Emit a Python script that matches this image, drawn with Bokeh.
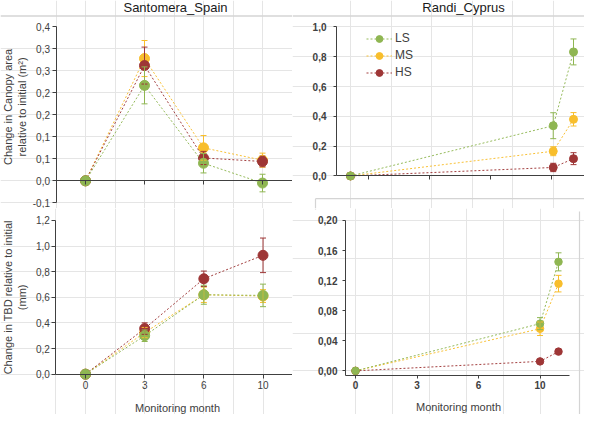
import math
from bokeh.plotting import figure
from bokeh.models import (Range1d, LinearAxis, FixedTicker, CustomJSTickFormatter,
                          ColumnDataSource, Whisker, TeeHead, Span, Label, Legend, LegendItem)
from bokeh.layouts import column, row
from bokeh.embed import file_html
from bokeh.resources import INLINE

# ---------------- data ----------------
series = ["LS", "MS", "HS"]
colors = {"LS": "#8fb652", "MS": "#f8be2c", "HS": "#9e3636"}

spain_month_labels = ["0", "3", "6", "10"]
cyprus_months = [0, 10, 11]

spain_canopy = {"LS": [0, 0.217, 0.040, -0.005],
                "MS": [0, 0.278, 0.075, 0.047],
                "HS": [0, 0.262, 0.052, 0.044]}
spain_canopy_err = {"LS": [0, 0.042, 0.022, 0.020],
                    "MS": [0, 0.041, 0.028, 0.016],
                    "HS": [0, 0.042, 0.015, 0.012]}

spain_tbd = {"LS": [0, 0.300, 0.620, 0.615],
             "MS": [0, 0.325, 0.620, 0.610],
             "HS": [0, 0.356, 0.745, 0.928]}
spain_tbd_err = {"LS": [0, 0.045, 0.074, 0.088],
                 "MS": [0, 0.040, 0.060, 0.050],
                 "HS": [0, 0.045, 0.060, 0.135]}

cyprus_canopy = {"LS": [0, 0.337, 0.832],
                 "MS": [0, 0.166, 0.380],
                 "HS": [0, 0.057, 0.116]}
cyprus_canopy_err = {"LS": [0, 0.087, 0.087],
                     "MS": [0, 0.030, 0.045],
                     "HS": [0, 0.028, 0.040]}

cyprus_tbd = {"LS": [0, 0.0628, 0.145],
              "MS": [0, 0.056, 0.116],
              "HS": [0, 0.0126, 0.0256]}
cyprus_tbd_err = {"LS": [0, 0.008, 0.012],
                  "MS": [0, 0.009, 0.011],
                  "HS": [0, 0.0, 0.0]}

spain_canopy_ticks = [-0.05, 0.0, 0.05, 0.10, 0.15, 0.20, 0.25, 0.30, 0.35]
spain_canopy_tick_labels = ["-0,1", "0,0", "0,1", "0,1", "0,2", "0,2", "0,3", "0,3", "0,4"]
spain_tbd_ticks = [0.0, 0.2, 0.4, 0.6, 0.8, 1.0, 1.2]
spain_tbd_tick_labels = ["0,0", "0,2", "0,4", "0,6", "0,8", "1,0", "1,2"]
cyprus_canopy_ticks = [0.0, 0.2, 0.4, 0.6, 0.8, 1.0]
cyprus_canopy_tick_labels = ["0,0", "0,2", "0,4", "0,6", "0,8", "1,0"]
cyprus_tbd_ticks = [0.0, 0.04, 0.08, 0.12, 0.16, 0.20]
cyprus_tbd_tick_labels = ["0,00", "0,04", "0,08", "0,12", "0,16", "0,20"]
cyprus_x_ticks = [0, 10 / 3, 20 / 3, 10]
cyprus_x_tick_labels = ["0", "3", "6", "10"]
cyprus_top_x_ticks = [0.9, 3.9, 6.9, 9.9]

# ---------------- layout helpers ----------------
FONT = "Liberation Sans"
AXIS_C = "#404040"
LABEL_C = "#404040"
GRAY = "#d4d4d4"
TOP_H, BOT_H, COL_W = 208, 206, 292
S = 414 / 424.0


def ly(ref_y, r):
    return (ref_y - 4) * S - (0 if r == 0 else TOP_H)


def lx(ref_x, c):
    return ref_x - (8 if c == 0 else 300)


def make_fig(w, h, xmap, ymap):
    (xv0, xp0, xv1, xp1) = xmap
    (yv0, yp0, yv1, yp1) = ymap
    kx = (xp1 - xp0) / (xv1 - xv0)
    x0 = xv0 - xp0 / kx
    x1 = x0 + w / kx
    ky = (yp0 - yp1) / (yv1 - yv0)
    y1 = yv0 + yp0 / ky
    y0 = y1 - h / ky
    p = figure(width=w, height=h, x_range=Range1d(x0, x1), y_range=Range1d(y0, y1),
               output_backend="svg", toolbar_location=None, title=None, min_border=0,
               x_axis_location=None, y_axis_location=None, outline_line_color=None,
               background_fill_color="white", border_fill_color="white")
    fx = lambda px: x0 + px / kx
    fy = lambda py: y1 - py / ky
    return p, fx, fy


def fmt(ticks, labels):
    return CustomJSTickFormatter(args=dict(tv=list(ticks), tl=list(labels)), code="""
        for (let i = 0; i < tv.length; i++) { if (Math.abs(tv[i] - tick) < 1e-9) return tl[i]; }
        return '';
    """)


def style_axis(ax, tick_out, standoff, size="10px", bold=False):
    ax.axis_line_color = AXIS_C
    ax.axis_line_width = 1
    ax.major_tick_line_color = AXIS_C
    ax.major_tick_out = tick_out
    ax.major_tick_in = 0
    ax.minor_tick_out = 0
    ax.minor_tick_in = 0
    ax.major_label_standoff = standoff
    ax.major_label_text_font = FONT
    ax.major_label_text_font_size = size
    ax.major_label_text_color = LABEL_C
    if bold:
        ax.major_label_text_font_style = "bold"


def add_axes(p, xloc, xb, xticks, xlabels, yloc, yb, yticks, ylabels, xstand=2, ystand=2,
             xout=4, yout=4, bold=False):
    xa = LinearAxis(fixed_location=xloc, bounds=xb, ticker=FixedTicker(ticks=list(xticks)),
                    formatter=fmt(xticks, xlabels))
    style_axis(xa, xout, xstand, bold=bold)
    p.add_layout(xa, "below")
    ya = LinearAxis(fixed_location=yloc, bounds=yb, ticker=FixedTicker(ticks=list(yticks)),
                    formatter=fmt(yticks, ylabels))
    style_axis(ya, yout, ystand, bold=bold)
    p.add_layout(ya, "left")


def add_series(p, xs, data, errs, size):
    rends = {}
    for s in ["MS", "HS", "LS"]:
        c = colors[s]
        src = ColumnDataSource(dict(x=list(xs), y=data[s]))
        ln = p.line("x", "y", source=src, line_color=c, line_width=1, line_dash="2 2", line_alpha=0.95)
        bx = [x for x, e in zip(xs, errs[s]) if e > 0]
        by = [y for y, e in zip(data[s], errs[s]) if e > 0]
        be = [e for e in errs[s] if e > 0]
        if bx:
            wsrc = ColumnDataSource(dict(base=bx, upper=[y + e for y, e in zip(by, be)],
                                         lower=[y - e for y, e in zip(by, be)]))
            p.add_layout(Whisker(source=wsrc, base="base", upper="upper", lower="lower",
                                 line_color=c, line_width=1, level="glyph",
                                 upper_head=TeeHead(size=6, line_color=c, line_width=1),
                                 lower_head=TeeHead(size=6, line_color=c, line_width=1)))
        pt = p.scatter("x", "y", source=src, size=size, marker="circle", fill_color=c, line_color=c)
        rends[s] = (ln, pt)
    return rends


def text(p, x, y, t, size, angle=0.0, color=LABEL_C, align="center"):
    p.add_layout(Label(x=x, y=y, text=t, text_font=FONT, text_font_size=size, text_color=color,
                       text_align=align, text_baseline="middle", angle=angle))


spain_x = list(range(len(spain_month_labels)))

# ---------------- top-left: Santomera canopy ----------------
tl, fx, fy = make_fig(COL_W, TOP_H, (0, lx(93, 0), 3, lx(270, 0)), (0, ly(188.7, 0), 0.35, ly(31, 0)))
tl.add_layout(Span(location=fy(ly(20, 0)), dimension="width", line_color=GRAY, line_width=1.5))
add_axes(tl, 0, (-0.5, 3.5), spain_x, ["", "", "", ""], -0.5, (-0.05, 0.35),
         spain_canopy_ticks, spain_canopy_tick_labels)
add_series(tl, spain_x, spain_canopy, spain_canopy_err, 10)
text(tl, fx(lx(183, 0)), fy(ly(11.5, 0)), "Santomera_Spain", "13px", color="#1a1a1a")
text(tl, fx(lx(15, 0)), fy(ly(113, 0)), "Change in Canopy area", "11px", angle=math.pi / 2)
text(tl, fx(lx(29, 0)), fy(ly(113, 0)), "relative to initial (m\u00b2)", "11px", angle=math.pi / 2)

# ---------------- top-right: Randi canopy ----------------
tr, gx, gy = make_fig(COL_W, TOP_H, (0, lx(358, 1), 11, lx(581, 1)), (0, ly(183.7, 0), 1.0, ly(31, 0)))
tr.add_layout(Span(location=gy(ly(20, 0)), dimension="width", line_color=GRAY, line_width=1.5))
tr.segment(x0=[gx(lx(323, 1)), gx(lx(323, 1))], y0=[gy(ly(207, 0)), gy(ly(207, 0))],
           x1=[gx(COL_W), gx(lx(323, 1))], y1=[gy(ly(207, 0)), gy(TOP_H)],
           line_color=GRAY, line_width=1.2)
add_axes(tr, 0, (gx(lx(344, 1)), gx(lx(592, 1))), cyprus_top_x_ticks, ["", "", "", ""],
         gx(lx(344, 1)), (0, 1.0), cyprus_canopy_ticks, cyprus_canopy_tick_labels,
         ystand=7, yout=3, bold=True)
r = add_series(tr, cyprus_months, cyprus_canopy, cyprus_canopy_err, 8)
text(tr, gx(lx(471, 1)), gy(ly(11.5, 0)), "Randi_Cyprus", "13px", color="#1a1a1a")
leg_top = ly(43, 0) - 8.5
legend = Legend(items=[LegendItem(label=s, renderers=list(r[s])) for s in series],
                location=(lx(374, 1), TOP_H - leg_top - 51), orientation="vertical",
                background_fill_alpha=0, border_line_color=None, padding=0, margin=0, spacing=0,
                glyph_width=26, glyph_height=17, label_height=17, label_standoff=3,
                label_text_font=FONT, label_text_font_size="12px", label_text_color=LABEL_C)
tr.add_layout(legend)

# ---------------- bottom-left: Santomera TBD ----------------
bl, hx, hy = make_fig(COL_W, BOT_H, (0, lx(93, 0), 3, lx(270.5, 0)), (0, ly(386.7, 1), 1.2, ly(229.3, 1)))
add_axes(bl, 0, (-0.5, 3.5), spain_x, spain_month_labels, -0.5, (0, 1.2),
         spain_tbd_ticks, spain_tbd_tick_labels, xstand=3)
add_series(bl, spain_x, spain_tbd, spain_tbd_err, 10)
text(bl, hx(lx(15, 0)), hy(ly(308, 1)), "Change in TBD relative to initial", "11px", angle=math.pi / 2)
text(bl, hx(lx(29, 0)), hy(ly(308, 1)), "(mm)", "11px", angle=math.pi / 2)
text(bl, hx(lx(185, 0)), hy(ly(421, 1)), "Monitoring month", "11px")

# ---------------- bottom-right: Randi TBD ----------------
br, kx_, ky_ = make_fig(COL_W, BOT_H, (0, lx(363, 1), 11, lx(566, 1)), (0, ly(383.3, 1), 0.2, ly(229.3, 1)))
br.segment(x0=[kx_(lx(323, 1))], y0=[ky_(0)], x1=[kx_(lx(323, 1))], y1=[ky_(ly(218, 1))],
           line_color=GRAY, line_width=1.2)
br.segment(x0=[kx_(lx(587, 1))], y0=[ky_(ly(220, 1))], x1=[kx_(lx(587, 1))], y1=[ky_(BOT_H)],
           line_color=GRAY, line_width=1.2)
add_axes(br, -0.006, (kx_(lx(353, 1)), kx_(lx(577, 1))), cyprus_x_ticks, cyprus_x_tick_labels,
         kx_(lx(353, 1)), (-0.006, 0.2), cyprus_tbd_ticks, cyprus_tbd_tick_labels,
         xstand=3, ystand=5, xout=3, yout=3, bold=True)
add_series(br, cyprus_months, cyprus_tbd, cyprus_tbd_err, 7.5)
text(br, kx_(lx(466, 1)), ky_(ly(420, 1)), "Monitoring month", "11px")

layout = column(row(tl, tr), row(bl, br))
open("out.html", "w").write(file_html(layout, INLINE))
